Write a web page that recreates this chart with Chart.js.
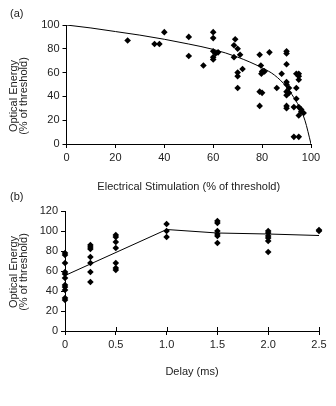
<!DOCTYPE html>
<html>
<head>
<meta charset="utf-8">
<script src="https://cdn.jsdelivr.net/npm/chart.js@4"></script>
<style>
  body { margin: 0; background: #fff; }
  .panel { position: absolute; left: 0; }
</style>
</head>
<body>
<div class="panel" style="top:0px"><canvas id="chartA" width="336" height="200"></canvas></div>
<div class="panel" style="top:185px"><canvas id="chartB" width="336" height="221"></canvas></div>
<script>
// panel (a): optical energy vs electrical stimulation
const stimX = [25, 36, 38, 40, 50, 50, 56, 60, 60, 60, 61, 60, 60, 62, 69, 68.5, 70, 71, 68.5, 70, 70, 72, 70,
  79, 79.5, 80, 79.7, 81, 79, 80, 79, 83, 86, 88, 90, 90, 90, 90, 90, 91, 90, 91, 90, 90, 90, 93,
  94, 95, 95, 95, 94, 94, 95, 96, 96, 95, 97, 93, 95];
const stimY = [87, 84, 84, 94, 90, 74, 66, 94, 89, 78, 76, 73, 71, 77, 88, 83, 80, 75, 73, 60, 57, 63, 47,
  75, 66, 61, 59, 61, 44, 43, 32, 77, 47, 59, 78, 76, 67, 52, 50, 47, 44, 43, 41, 32, 30, 31,
  59, 59, 57, 54, 47, 38, 31, 29, 27, 24, 26, 6, 6];
// fitted curve
const fitAX = [0, 10, 20, 30, 40, 50, 60, 70, 80, 85, 90, 93, 95, 97.5, 100];
const fitAY = [100, 97.5, 94.5, 91.5, 88, 84, 79.5, 73, 64, 58, 48, 39, 32, 20, 0];
const ticksA = [0, 20, 40, 60, 80, 100];

// panel (b): optical energy vs delay
const delayX = [0, 0, 0, 0, 0, 0, 0, 0, 0, 0, 0,
  0.25, 0.25, 0.25, 0.25, 0.25, 0.25, 0.25,
  0.5, 0.5, 0.5, 0.5, 0.5, 0.5, 0.5,
  1, 1, 1,
  1.5, 1.5, 1.5, 1.5, 1.5, 1.5,
  2, 2, 2, 2, 2, 2,
  2.5, 2.5];
const delayY = [78, 76, 68, 59, 57, 53, 46, 44, 41, 33, 31,
  86, 84, 82, 74, 68, 59, 49,
  96, 94, 89, 83, 68, 63, 61,
  107, 100, 94,
  110, 108, 100, 97, 95, 88,
  100, 98, 95, 93, 90, 79,
  101, 100];
const fitBX = [0, 1, 1.5, 2, 2.5];
const fitBY = [55.5, 101.5, 98, 97, 95.5];

const FONT = '"Liberation Sans", Arial, sans-serif';
const TXT = '#222';

function pts(xs, ys) {
  return xs.map((x, i) => ({ x: x, y: ys[i] }));
}

// two-line rotated y title, drawn a bit off the axis centre like the original
function sideTitle(lines, cy) {
  return {
    id: 'sideTitle',
    afterDraw(chart) {
      const ctx = chart.ctx;
      ctx.save();
      ctx.fillStyle = TXT;
      ctx.font = '11px ' + FONT;
      ctx.textAlign = 'center';
      ctx.textBaseline = 'middle';
      lines.forEach((t, i) => {
        ctx.save();
        ctx.translate(14 + i * 10, cy);
        ctx.rotate(-Math.PI / 2);
        ctx.fillText(t, 0, 0);
        ctx.restore();
      });
      ctx.restore();
    }
  };
}

function panelLabel(text, x, y) {
  return {
    id: 'panelLabel',
    afterDraw(chart) {
      const ctx = chart.ctx;
      ctx.save();
      ctx.fillStyle = TXT;
      ctx.font = '11px ' + FONT;
      ctx.textBaseline = 'middle';
      ctx.fillText(text, x, y);
      ctx.restore();
    }
  };
}

// x ticks of panel (b) cross the axis
const crossTicks = {
  id: 'crossTicks',
  afterDraw(chart) {
    const xs = chart.scales.x;
    const ctx = chart.ctx;
    ctx.save();
    ctx.strokeStyle = '#000';
    ctx.lineWidth = 1;
    xs.ticks.forEach(t => {
      const px = Math.round(xs.getPixelForValue(t.value)) + 0.5;
      ctx.beginPath();
      ctx.moveTo(px, xs.top - 4);
      ctx.lineTo(px, xs.top);
      ctx.stroke();
    });
    ctx.restore();
  }
};

function axis(min, max, step, extra) {
  return Object.assign({
    type: 'linear',
    min: min,
    max: max,
    grid: { display: true, drawOnChartArea: false, drawTicks: true, tickLength: 4, color: '#000', lineWidth: 1 },
    border: { display: true, color: '#000', width: 1 },
    ticks: { stepSize: step, color: TXT, font: { family: FONT, size: 11 } }
  }, extra);
}

const markerStyle = {
  showLine: false,
  clip: false,
  pointStyle: 'rectRot',
  pointRadius: 3.3,
  pointHoverRadius: 3.3,
  backgroundColor: '#000',
  borderColor: '#000',
  borderWidth: 0
};

new Chart(document.getElementById('chartA'), {
  type: 'scatter',
  data: {
    datasets: [
      Object.assign({ data: pts(stimX, stimY) }, markerStyle),
      {
        data: pts(fitAX, fitAY),
        showLine: true,
        pointRadius: 0,
        borderColor: '#000',
        borderWidth: 1,
        cubicInterpolationMode: 'monotone'
      }
    ]
  },
  options: {
    responsive: false,
    animation: false,
    layout: { padding: { left: 0, right: 25, top: 25, bottom: 0 } },
    plugins: { legend: { display: false }, tooltip: { enabled: false } },
    scales: {
      x: axis(0, 100, 20, {
        afterFit: s => { s.height = 56; },
        afterBuildTicks: s => { s.ticks = ticksA.map(v => ({ value: v })); },
        title: { display: true, text: 'Electrical Stimulation (% of threshold)', color: TXT,
                 font: { family: FONT, size: 11 }, padding: { top: 0, bottom: 6 } }
      }),
      y: axis(0, 100, 20, {
        afterFit: s => { s.width = 66.5; }
      })
    }
  },
  plugins: [sideTitle(['Optical Energy', '(% of threshold)'], 96), panelLabel('(a)', 10, 14)]
});
</script>
<script>
new Chart(document.getElementById('chartB'), {
  type: 'scatter',
  data: {
    datasets: [
      Object.assign({ data: pts(delayX, delayY) }, markerStyle),
      {
        data: pts(fitBX, fitBY),
        showLine: true,
        pointRadius: 0,
        borderColor: '#000',
        borderWidth: 1,
        tension: 0
      }
    ]
  },
  options: {
    responsive: false,
    animation: false,
    layout: { padding: { left: 0, right: 17, top: 26, bottom: 0 } },
    plugins: { legend: { display: false }, tooltip: { enabled: false } },
    scales: {
      x: axis(0, 2.5, 0.5, {
        afterFit: s => { s.height = 75; },
        title: { display: true, text: 'Delay (ms)', color: TXT,
                 font: { family: FONT, size: 11 }, padding: { top: 0, bottom: 27 } }
      }),
      y: axis(0, 120, 20, {
        afterFit: s => { s.width = 65; }
      })
    }
  },
  plugins: [sideTitle(['Optical Energy', '(% of threshold)'], 87), panelLabel('(b)', 10, 12), crossTicks]
});
</script>
</body>
</html>
